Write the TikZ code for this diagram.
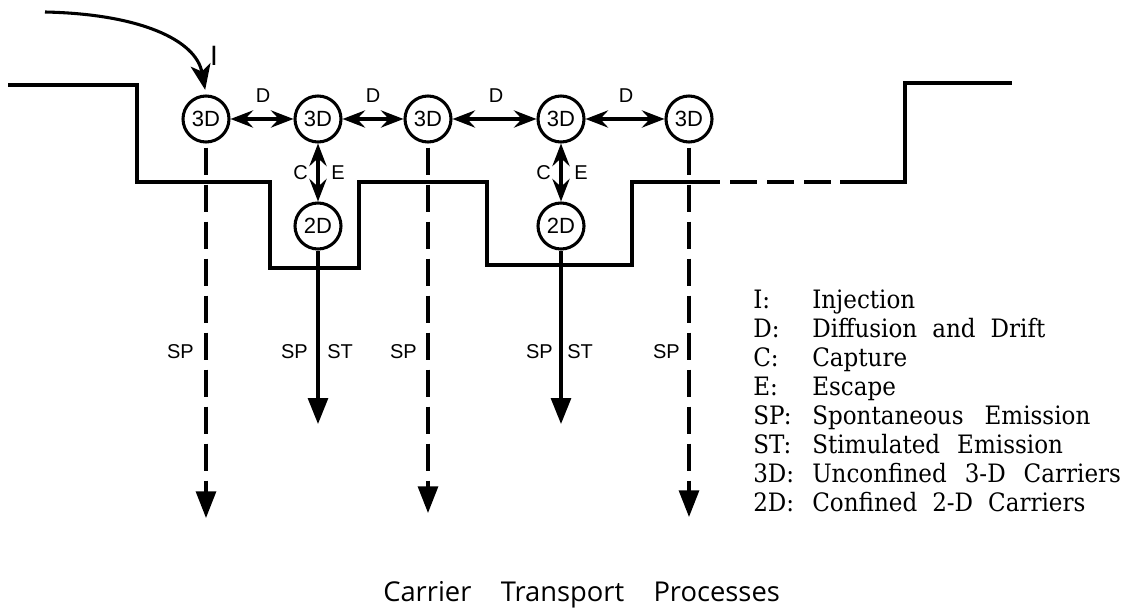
\documentclass[tikz,border=0pt]{standalone}
\usepackage{fontspec}
\setmainfont{Liberation Sans}
\newfontfamily\legendfont[FakeStretch=0.91]{DejaVu Serif}
\newfontfamily\capfont{Open Sans}
\usetikzlibrary{arrows.meta}
\newcommand\gap[1]{\hspace*{#1pt}}
\begin{document}
\begin{tikzpicture}[x=0.75pt,y=-0.75pt,
  band/.style={line width=2.3pt, line join=miter},
  carrier/.style={circle, draw, line width=2.3pt, minimum size=34.5pt, inner sep=0pt,
    font=\fontsize{16.5}{16.5}\selectfont},
  lab/.style={inner sep=0pt, font=\fontsize{15}{15}\selectfont},
  dif/.style={line width=2.3pt, >={Stealth[length=17pt,width=13pt,inset=6pt]}, <->},
  spdash/.style={line width=2.3pt, dash pattern=on 20.25pt off 7.5pt, shorten <=3pt,
    >={Triangle[length=20pt,width=15pt]}, ->},
  stsolid/.style={line width=2.3pt, >={Triangle[length=19.5pt,width=15pt]}, ->},
  inj/.style={line width=2.3pt, shorten >=3.5pt, >={Stealth[length=19pt,width=15pt,inset=5pt]}, ->},
  keytext/.style={inner sep=0pt, anchor=base west, font=\legendfont\fontsize{19}{19}\selectfont},
  captext/.style={inner sep=0pt, anchor=base west, font=\capfont\fontsize{20.5}{20.5}\selectfont}
]
\useasboundingbox (0,0) rectangle (1130,609);

% band edge
\draw[band] (8,85) -- (137,85) -- (137,182) -- (270,182) -- (270,268) -- (359,268)
  -- (359,182) -- (487,182) -- (487,265) -- (632,265) -- (632,182) -- (720,182);
\draw[band, dash pattern=on 20.25pt off 7.5pt] (730,182) -- (831,182);
\draw[band] (840,182) -- (905,182) -- (905,83) -- (1012,83);

% carriers
\node[carrier] (a1) at (206,119) {3D};
\node[carrier] (a2) at (318,119) {3D};
\node[carrier] (a3) at (428,119) {3D};
\node[carrier] (a4) at (561,119) {3D};
\node[carrier] (a5) at (689,119) {3D};
\node[carrier] (w1) at (318,226) {2D};
\node[carrier] (w2) at (561,226) {2D};

% injection
\coordinate (i0) at (45,12);
\draw[inj] (i0) .. controls (140,14) and (196,40) .. (a1.north);
\node[inner sep=0pt, font=\fontsize{21}{21}\selectfont] (lI) at (214,56) {I};

% diffusion
\draw[dif] (a1) -- (a2);
\draw[dif] (a2) -- (a3);
\draw[dif] (a3) -- (a4);
\draw[dif] (a4) -- (a5);
\node[lab] (d1) at (263,96) {D};
\node[lab] (d2) at (373,96) {D};
\node[lab] (d3) at (496,96) {D};
\node[lab] (d4) at (626,96) {D};

% capture / escape
\draw[dif] (a2) -- (w1);
\draw[dif] (a4) -- (w2);
\node[lab, anchor=east] (c1) at (308,173) {C};
\node[lab, anchor=west] (e1) at (331,173) {E};
\node[lab, anchor=east] (c2) at (551,173) {C};
\node[lab, anchor=west] (e2) at (574,173) {E};

% emission
\coordinate (t1) at (206,518);
\coordinate (t3) at (428,513);
\coordinate (t5) at (689,517);
\coordinate (s1) at (318,424);
\coordinate (s2) at (561,424);
\draw[spdash] (a1) -- (t1);
\draw[spdash] (a3) -- (t3);
\draw[spdash] (a5) -- (t5);
\draw[stsolid] (w1) -- (s1);
\draw[stsolid] (w2) -- (s2);
\node[lab, anchor=base east] (p1) at (194,358) {SP};
\node[lab, anchor=base east] (p2) at (308,358) {SP};
\node[lab, anchor=base west] (q2) at (327,358) {ST};
\node[lab, anchor=base east] (p3) at (417,358) {SP};
\node[lab, anchor=base east] (p4) at (553,358) {SP};
\node[lab, anchor=base west] (q4) at (567,358) {ST};
\node[lab, anchor=base east] (p5) at (680,358) {SP};

% legend
\foreach \k/\t [count=\i from 0] in {I:/Injection, D:/Diffusion\gap{11.25}and\gap{11.25}Drift,
  C:/Capture, E:/Escape, SP:/Spontaneous\gap{15.75}Emission, ST:/Stimulated\gap{12.75}Emission,
  3D:/Unconfined\gap{13.5}3-D\gap{13.5}Carriers, 2D:/Confined\gap{11.25}2-D\gap{11.25}Carriers}{
  \node[keytext] (k\i) at (753,308+29*\i) {\k};
  \node[keytext] (v\i) at (812,308+29*\i) {\t};
}

% caption
\node[captext] (cap) at (383,601) {Carrier\hspace*{22pt}Transport\hspace*{22pt}Processes};
\end{tikzpicture}
\end{document}
